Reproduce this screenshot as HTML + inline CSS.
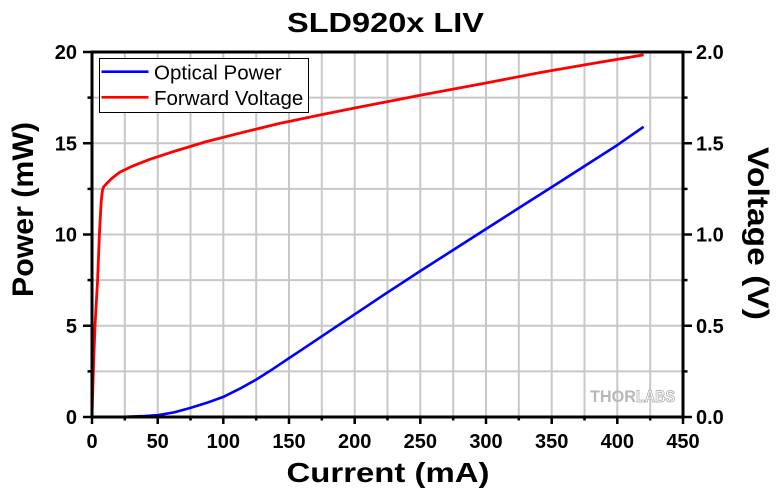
<!DOCTYPE html>
<html>
<head>
<meta charset="utf-8">
<style>
  html, body { margin: 0; padding: 0; background: #ffffff; }
  svg { display: block; }
  text { font-family: "Liberation Sans", Arial, sans-serif; }
</style>
</head>
<body>
<svg width="780" height="493" viewBox="0 0 780 493" xmlns="http://www.w3.org/2000/svg">
  <rect x="0" y="0" width="780" height="493" fill="#ffffff"/>

  <!-- Grid -->
  <g stroke="#c8c8c8" stroke-width="2">
    <line x1="124.8" y1="52" x2="124.8" y2="417"/>
    <line x1="157.7" y1="52" x2="157.7" y2="417"/>
    <line x1="190.5" y1="52" x2="190.5" y2="417"/>
    <line x1="223.3" y1="52" x2="223.3" y2="417"/>
    <line x1="256.2" y1="52" x2="256.2" y2="417"/>
    <line x1="289.0" y1="52" x2="289.0" y2="417"/>
    <line x1="321.8" y1="52" x2="321.8" y2="417"/>
    <line x1="354.7" y1="52" x2="354.7" y2="417"/>
    <line x1="387.5" y1="52" x2="387.5" y2="417"/>
    <line x1="420.3" y1="52" x2="420.3" y2="417"/>
    <line x1="453.2" y1="52" x2="453.2" y2="417"/>
    <line x1="486.0" y1="52" x2="486.0" y2="417"/>
    <line x1="518.8" y1="52" x2="518.8" y2="417"/>
    <line x1="551.7" y1="52" x2="551.7" y2="417"/>
    <line x1="584.5" y1="52" x2="584.5" y2="417"/>
    <line x1="617.3" y1="52" x2="617.3" y2="417"/>
    <line x1="650.2" y1="52" x2="650.2" y2="417"/>

    <line x1="92" y1="371.4" x2="683" y2="371.4"/>
    <line x1="92" y1="325.75" x2="683" y2="325.75"/>
    <line x1="92" y1="280.1" x2="683" y2="280.1"/>
    <line x1="92" y1="234.5" x2="683" y2="234.5"/>
    <line x1="92" y1="188.9" x2="683" y2="188.9"/>
    <line x1="92" y1="143.25" x2="683" y2="143.25"/>
    <line x1="92" y1="97.6" x2="683" y2="97.6"/>
  </g>

  <!-- THORLABS watermark -->
  <text x="590" y="402" font-size="16.5" font-weight="bold" fill="#b8b8b8" textLength="46" lengthAdjust="spacingAndGlyphs">THOR</text>
  <text x="636" y="402" font-size="16.5" font-weight="bold" fill="#ffffff" stroke="#b8b8b8" stroke-width="1" textLength="39" lengthAdjust="spacingAndGlyphs">LABS</text>

  <!-- Series: Optical Power (blue) -->
  <polyline fill="none" stroke="#0000ff" stroke-width="2.6" stroke-linejoin="round" stroke-linecap="butt"
    points="92,417 105.1,417 124.8,416.8 144.5,416.1 157.7,415.2 174.1,412.4 190.5,407.9 206.9,402.8 223.3,396.9 239.8,388.7 256.2,379.6 272.6,369.2 289,358.2 305.4,347.3 321.8,336.3 354.7,314.3 387.5,292.4 420.3,271 453.2,250 486,229 518.8,208 551.7,187.1 584.5,166.1 617.3,145.1 643.6,126.8"/>

  <!-- Series: Forward Voltage (red) -->
  <polyline fill="none" stroke="#ff0000" stroke-width="2.8" stroke-linejoin="round" stroke-linecap="butt"
    points="92,417 93.3,371.4 95,325.8 97.6,280.1 99.4,234.5 101.2,201.6 102.5,189.8 103.8,186.7 106.4,183.8 111.7,178.5 119.6,172.3 131.4,166.6 149.8,159.3 170.8,152.4 206.3,141.6 243,132.3 279.8,123.4 321.8,114.6 354.7,108 420.3,95.3 486,83 539.8,72.6 591,63.7 643.6,54.9"/>

  <!-- Axes frame -->
  <g stroke="#000000" stroke-width="3" fill="none">
    <line x1="92" y1="50.5" x2="92" y2="418.5"/>
    <line x1="683" y1="50.5" x2="683" y2="418.5"/>
    <line x1="90.5" y1="52" x2="684.5" y2="52"/>
    <line x1="90.5" y1="417" x2="684.5" y2="417"/>
  </g>

  <!-- Ticks -->
  <g stroke="#000000" stroke-width="2.5">
    <!-- left major -->
    <line x1="83" y1="417" x2="92" y2="417"/>
    <line x1="83" y1="325.75" x2="92" y2="325.75"/>
    <line x1="83" y1="234.5" x2="92" y2="234.5"/>
    <line x1="83" y1="143.25" x2="92" y2="143.25"/>
    <line x1="83" y1="52" x2="92" y2="52"/>
    <!-- left minor -->
    <line x1="87.5" y1="371.4" x2="92" y2="371.4"/>
    <line x1="87.5" y1="280.1" x2="92" y2="280.1"/>
    <line x1="87.5" y1="188.9" x2="92" y2="188.9"/>
    <line x1="87.5" y1="97.6" x2="92" y2="97.6"/>
    <!-- right major -->
    <line x1="683" y1="417" x2="692" y2="417"/>
    <line x1="683" y1="325.75" x2="692" y2="325.75"/>
    <line x1="683" y1="234.5" x2="692" y2="234.5"/>
    <line x1="683" y1="143.25" x2="692" y2="143.25"/>
    <line x1="683" y1="52" x2="692" y2="52"/>
    <!-- right minor -->
    <line x1="683" y1="371.4" x2="687.5" y2="371.4"/>
    <line x1="683" y1="280.1" x2="687.5" y2="280.1"/>
    <line x1="683" y1="188.9" x2="687.5" y2="188.9"/>
    <line x1="683" y1="97.6" x2="687.5" y2="97.6"/>
    <!-- bottom major -->
    <line x1="92" y1="417" x2="92" y2="424"/>
    <line x1="157.7" y1="417" x2="157.7" y2="424"/>
    <line x1="223.3" y1="417" x2="223.3" y2="424"/>
    <line x1="289" y1="417" x2="289" y2="424"/>
    <line x1="354.7" y1="417" x2="354.7" y2="424"/>
    <line x1="420.3" y1="417" x2="420.3" y2="424"/>
    <line x1="486" y1="417" x2="486" y2="424"/>
    <line x1="551.7" y1="417" x2="551.7" y2="424"/>
    <line x1="617.3" y1="417" x2="617.3" y2="424"/>
    <line x1="683" y1="417" x2="683" y2="424"/>
    <!-- bottom minor -->
    <line x1="124.8" y1="417" x2="124.8" y2="420.5"/>
    <line x1="190.5" y1="417" x2="190.5" y2="420.5"/>
    <line x1="256.2" y1="417" x2="256.2" y2="420.5"/>
    <line x1="321.8" y1="417" x2="321.8" y2="420.5"/>
    <line x1="387.5" y1="417" x2="387.5" y2="420.5"/>
    <line x1="453.2" y1="417" x2="453.2" y2="420.5"/>
    <line x1="518.8" y1="417" x2="518.8" y2="420.5"/>
    <line x1="584.5" y1="417" x2="584.5" y2="420.5"/>
    <line x1="650.2" y1="417" x2="650.2" y2="420.5"/>
  </g>

  <!-- Left tick labels -->
  <g font-size="20" font-weight="bold" fill="#000000" text-anchor="end">
    <text x="77" y="424">0</text>
    <text x="77" y="333">5</text>
    <text x="77" y="241.5">10</text>
    <text x="77" y="150.5">15</text>
    <text x="77" y="59">20</text>
  </g>

  <!-- Right tick labels -->
  <g font-size="20" font-weight="bold" fill="#000000" text-anchor="start">
    <text x="696" y="424">0.0</text>
    <text x="696" y="333">0.5</text>
    <text x="696" y="241.5">1.0</text>
    <text x="696" y="150.5">1.5</text>
    <text x="696" y="59">2.0</text>
  </g>

  <!-- Bottom tick labels -->
  <g font-size="20" font-weight="bold" fill="#000000" text-anchor="middle">
    <text x="92" y="448">0</text>
    <text x="157.7" y="448">50</text>
    <text x="223.3" y="448">100</text>
    <text x="289" y="448">150</text>
    <text x="354.7" y="448">200</text>
    <text x="420.3" y="448">250</text>
    <text x="486" y="448">300</text>
    <text x="551.7" y="448">350</text>
    <text x="617.3" y="448">400</text>
    <text x="683" y="448">450</text>
  </g>

  <!-- Title -->
  <text x="287" y="32" font-size="28" font-weight="bold" fill="#000000" textLength="197" lengthAdjust="spacingAndGlyphs">SLD920x LIV</text>

  <!-- Axis titles -->
  <text x="286.5" y="482" font-size="28" font-weight="bold" fill="#000000" textLength="203" lengthAdjust="spacingAndGlyphs">Current (mA)</text>
  <text transform="translate(33,297) rotate(-90)" x="0" y="0" font-size="30" font-weight="bold" fill="#000000" textLength="175" lengthAdjust="spacingAndGlyphs">Power (mW)</text>
  <text transform="translate(748,147) rotate(90)" x="0" y="0" font-size="30" font-weight="bold" fill="#000000" textLength="173" lengthAdjust="spacingAndGlyphs">Voltage (V)</text>

  <!-- Legend -->
  <rect x="99.5" y="58.5" width="209" height="54" fill="#ffffff" stroke="#000000" stroke-width="1"/>
  <line x1="101.5" y1="71.7" x2="148.5" y2="71.7" stroke="#0000ff" stroke-width="2.6"/>
  <line x1="101.5" y1="97.3" x2="148.5" y2="97.3" stroke="#ff0000" stroke-width="2.6"/>
  <text x="154" y="79.3" font-size="20" fill="#000000" textLength="127.7" lengthAdjust="spacingAndGlyphs">Optical Power</text>
  <text x="154" y="104.8" font-size="20" fill="#000000" textLength="149.3" lengthAdjust="spacingAndGlyphs">Forward Voltage</text>
</svg>
</body>
</html>
